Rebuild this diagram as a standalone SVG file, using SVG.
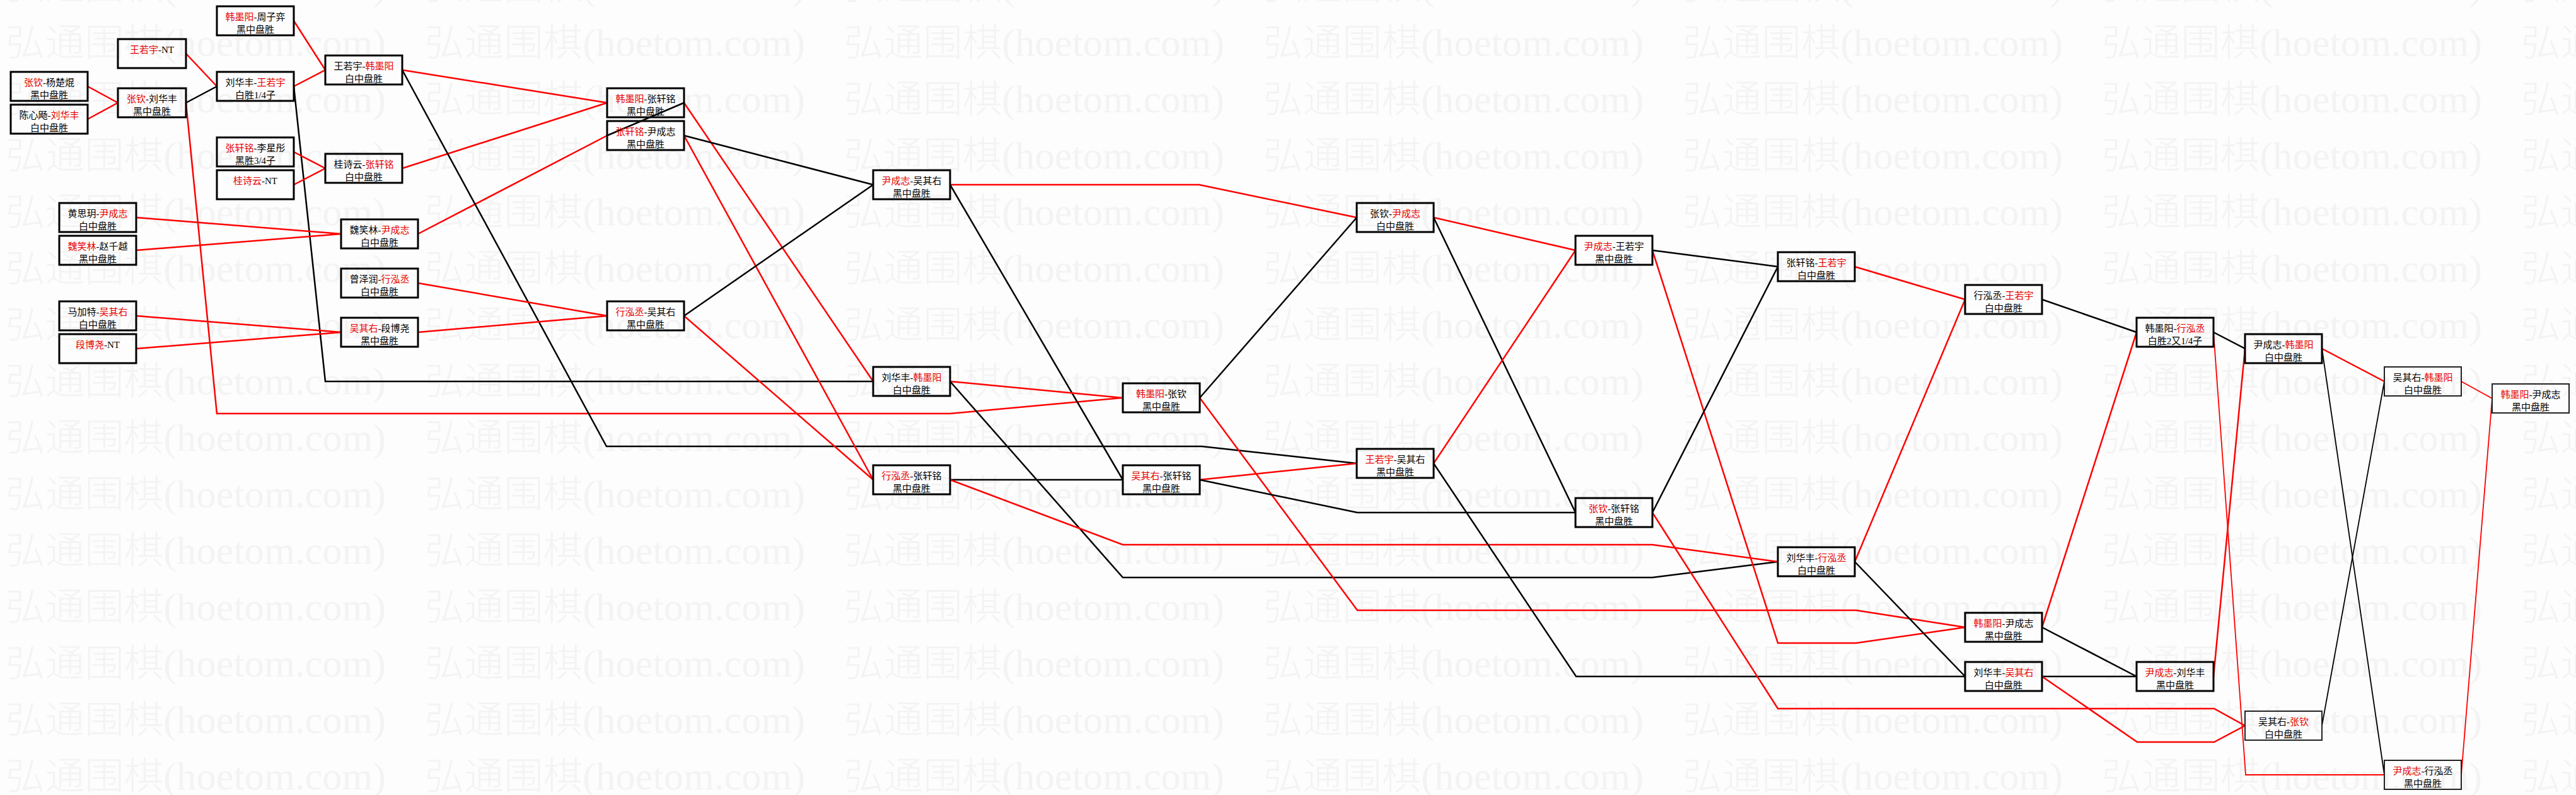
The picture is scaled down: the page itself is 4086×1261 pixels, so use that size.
<svg xmlns="http://www.w3.org/2000/svg" width="4086" height="1261" viewBox="0 0 4086 1261">
<style>
.bg{fill:#fdfdfd}
.wm{font-family:"Liberation Serif","Noto Sans CJK SC",serif;font-size:60px;font-weight:300;fill:#f3f3f3}
.nb{fill:none;stroke:#000;stroke-width:3}
.nb.t{stroke-width:2;stroke:#222}
.tx{font-family:"Liberation Serif","Noto Sans CJK SC",serif;font-size:15px;fill:#000;text-anchor:middle}
.r{fill:#e60000}
.w{fill:none;stroke:#f00;stroke-width:2.5}
.l{fill:none;stroke:#000;stroke-width:2.5}
.s{stroke-width:1.8}
</style>
<defs>
<pattern id="wmp" x="9" y="22" width="665" height="89.5" patternUnits="userSpaceOnUse">
<text class="wm" x="0" y="67" textLength="603" lengthAdjust="spacingAndGlyphs">弘通围棋(hoetom.com)</text>
</pattern>
</defs>
<rect class="bg" x="0" y="0" width="4086" height="1261"/>
<rect x="0" y="0" width="4086" height="1261" fill="url(#wmp)"/>
<g id="connectors">
<polyline class="w" points="139,137 187,163"/>
<polyline class="w" points="139,189 187,163"/>
<polyline class="l" points="295,163 344,137"/>
<polyline class="w" points="295,85 344,137"/>
<polyline class="w" points="295,163 344,656 1507,656 1781,631"/>
<polyline class="w" points="466,33 516,111"/>
<polyline class="w" points="466,137 516,111"/>
<polyline class="l" points="466,137 516,605 1385,605"/>
<polyline class="w" points="466,241 516,267"/>
<polyline class="w" points="466,293 516,267"/>
<polyline class="w" points="216,345 541,371"/>
<polyline class="w" points="216,397 541,371"/>
<polyline class="w" points="216,501 541,527"/>
<polyline class="w" points="216,553 541,527"/>
<polyline class="w" points="638,111 963,163"/>
<polyline class="w" points="638,267 963,163"/>
<polyline class="w" points="663,371 963,215"/>
<polyline class="l" points="638,111 962,708 1906,708 2152,735"/>
<polyline class="w" points="663,449 963,501"/>
<polyline class="w" points="663,527 963,501"/>
<polyline class="l" points="1085,163 963,215"/>
<polyline class="w" points="1085,163 1385,605"/>
<polyline class="l" points="1085,215 1385,293"/>
<polyline class="w" points="1085,215 1385,761"/>
<polyline class="l" points="1085,501 1385,293"/>
<polyline class="w" points="1085,501 1385,761"/>
<polyline class="w" points="1507,293 1902,293 2152,345"/>
<polyline class="l" points="1507,293 1781,761"/>
<polyline class="w" points="1507,605 1781,631"/>
<polyline class="l" points="1507,605 1781,916 2621,916 2820,891"/>
<polyline class="l" points="1507,761 1781,761"/>
<polyline class="w" points="1507,761 1781,864 2621,864 2820,891"/>
<polyline class="l" points="1903,631 2152,345"/>
<polyline class="w" points="1903,631 2153,968 2944,968 3117,995"/>
<polyline class="w" points="1903,761 2152,735"/>
<polyline class="l" points="1903,761 2153,813 2499,813"/>
<polyline class="w" points="2274,345 2499,397"/>
<polyline class="l" points="2274,345 2499,813"/>
<polyline class="w" points="2274,735 2499,397"/>
<polyline class="l" points="2274,735 2500,1073 3117,1073"/>
<polyline class="l" points="2621,397 2820,423"/>
<polyline class="w" points="2621,397 2820,1020 2944,1020 3117,995"/>
<polyline class="l" points="2621,813 2820,423"/>
<polyline class="w" points="2621,813 2820,1124 3512,1124 3561,1151"/>
<polyline class="w" points="2942,423 3117,475"/>
<polyline class="w" points="2942,891 3117,475"/>
<polyline class="l" points="2942,891 3117,1073"/>
<polyline class="l" points="3239,475 3389,527"/>
<polyline class="w" points="3239,995 3389,527"/>
<polyline class="l" points="3239,995 3389,1073"/>
<polyline class="l" points="3239,1073 3389,1073"/>
<polyline class="w" points="3239,1073 3390,1177 3512,1177 3561,1151"/>
<polyline class="l" points="3511,527 3561,553"/>
<polyline class="w s" points="3511,527 3562,1229 3782,1229"/>
<polyline class="w" points="3511,1073 3561,553"/>
<polyline class="w" points="3683,553 3782,605"/>
<polyline class="l s" points="3683,553 3782,1229"/>
<polyline class="l s" points="3683,1151 3782,605"/>
<polyline class="w s" points="3904,605 3953,632"/>
<polyline class="w s" points="3904,1229 3953,632"/>
</g>
<g id="n01" transform="translate(344,10)"><rect class="nb" width="122" height="46"/><text class="tx" x="61" y="22"><tspan class="r">韩墨阳</tspan>-周子弈</text><text class="tx" x="61" y="42">黑中盘胜</text></g>
<g id="n02" transform="translate(187,62)"><rect class="nb" width="108" height="46"/><text class="tx" x="54" y="22"><tspan class="r">王若宇</tspan>-NT</text></g>
<g id="n03" transform="translate(17,114)"><rect class="nb" width="122" height="46"/><text class="tx" x="61" y="22"><tspan class="r">张钦</tspan>-杨楚焜</text><text class="tx" x="61" y="42">黑中盘胜</text></g>
<g id="n04" transform="translate(17,166)"><rect class="nb" width="122" height="46"/><text class="tx" x="61" y="22">陈心飏-<tspan class="r">刘华丰</tspan></text><text class="tx" x="61" y="42">白中盘胜</text></g>
<g id="n05" transform="translate(187,140)"><rect class="nb" width="108" height="46"/><text class="tx" x="54" y="22"><tspan class="r">张钦</tspan>-刘华丰</text><text class="tx" x="54" y="42">黑中盘胜</text></g>
<g id="n06" transform="translate(344,114)"><rect class="nb" width="122" height="46"/><text class="tx" x="61" y="22">刘华丰-<tspan class="r">王若宇</tspan></text><text class="tx" x="61" y="42">白胜1/4子</text></g>
<g id="n07" transform="translate(516,88)"><rect class="nb" width="122" height="46"/><text class="tx" x="61" y="22">王若宇-<tspan class="r">韩墨阳</tspan></text><text class="tx" x="61" y="42">白中盘胜</text></g>
<g id="n08" transform="translate(344,218)"><rect class="nb" width="122" height="46"/><text class="tx" x="61" y="22"><tspan class="r">张轩铭</tspan>-李星彤</text><text class="tx" x="61" y="42">黑胜3/4子</text></g>
<g id="n09" transform="translate(344,270)"><rect class="nb" width="122" height="46"/><text class="tx" x="61" y="22"><tspan class="r">桂诗云</tspan>-NT</text></g>
<g id="n10" transform="translate(516,244)"><rect class="nb" width="122" height="46"/><text class="tx" x="61" y="22">桂诗云-<tspan class="r">张轩铭</tspan></text><text class="tx" x="61" y="42">白中盘胜</text></g>
<g id="n11" transform="translate(94,322)"><rect class="nb" width="122" height="46"/><text class="tx" x="61" y="22">黄思玥-<tspan class="r">尹成志</tspan></text><text class="tx" x="61" y="42">白中盘胜</text></g>
<g id="n12" transform="translate(94,374)"><rect class="nb" width="122" height="46"/><text class="tx" x="61" y="22"><tspan class="r">魏笑林</tspan>-赵千越</text><text class="tx" x="61" y="42">黑中盘胜</text></g>
<g id="n13" transform="translate(541,348)"><rect class="nb" width="122" height="46"/><text class="tx" x="61" y="22">魏笑林-<tspan class="r">尹成志</tspan></text><text class="tx" x="61" y="42">白中盘胜</text></g>
<g id="n14" transform="translate(541,426)"><rect class="nb" width="122" height="46"/><text class="tx" x="61" y="22">曾泽润-<tspan class="r">行泓丞</tspan></text><text class="tx" x="61" y="42">白中盘胜</text></g>
<g id="n15" transform="translate(94,478)"><rect class="nb" width="122" height="46"/><text class="tx" x="61" y="22">马加特-<tspan class="r">吴其右</tspan></text><text class="tx" x="61" y="42">白中盘胜</text></g>
<g id="n16" transform="translate(94,530)"><rect class="nb" width="122" height="46"/><text class="tx" x="61" y="22"><tspan class="r">段博尧</tspan>-NT</text></g>
<g id="n17" transform="translate(541,504)"><rect class="nb" width="122" height="46"/><text class="tx" x="61" y="22"><tspan class="r">吴其右</tspan>-段博尧</text><text class="tx" x="61" y="42">黑中盘胜</text></g>
<g id="n18" transform="translate(963,140)"><rect class="nb" width="122" height="46"/><text class="tx" x="61" y="22"><tspan class="r">韩墨阳</tspan>-张轩铭</text><text class="tx" x="61" y="42">黑中盘胜</text></g>
<g id="n19" transform="translate(963,192)"><rect class="nb" width="122" height="46"/><text class="tx" x="61" y="22"><tspan class="r">张轩铭</tspan>-尹成志</text><text class="tx" x="61" y="42">黑中盘胜</text></g>
<g id="n20" transform="translate(963,478)"><rect class="nb" width="122" height="46"/><text class="tx" x="61" y="22"><tspan class="r">行泓丞</tspan>-吴其右</text><text class="tx" x="61" y="42">黑中盘胜</text></g>
<g id="n21" transform="translate(1385,270)"><rect class="nb" width="122" height="46"/><text class="tx" x="61" y="22"><tspan class="r">尹成志</tspan>-吴其右</text><text class="tx" x="61" y="42">黑中盘胜</text></g>
<g id="n22" transform="translate(1385,582)"><rect class="nb" width="122" height="46"/><text class="tx" x="61" y="22">刘华丰-<tspan class="r">韩墨阳</tspan></text><text class="tx" x="61" y="42">白中盘胜</text></g>
<g id="n23" transform="translate(1385,738)"><rect class="nb" width="122" height="46"/><text class="tx" x="61" y="22"><tspan class="r">行泓丞</tspan>-张轩铭</text><text class="tx" x="61" y="42">黑中盘胜</text></g>
<g id="n24" transform="translate(1781,608)"><rect class="nb" width="122" height="46"/><text class="tx" x="61" y="22"><tspan class="r">韩墨阳</tspan>-张钦</text><text class="tx" x="61" y="42">黑中盘胜</text></g>
<g id="n25" transform="translate(1781,738)"><rect class="nb" width="122" height="46"/><text class="tx" x="61" y="22"><tspan class="r">吴其右</tspan>-张轩铭</text><text class="tx" x="61" y="42">黑中盘胜</text></g>
<g id="n26" transform="translate(2152,322)"><rect class="nb" width="122" height="46"/><text class="tx" x="61" y="22">张钦-<tspan class="r">尹成志</tspan></text><text class="tx" x="61" y="42">白中盘胜</text></g>
<g id="n27" transform="translate(2152,712)"><rect class="nb" width="122" height="46"/><text class="tx" x="61" y="22"><tspan class="r">王若宇</tspan>-吴其右</text><text class="tx" x="61" y="42">黑中盘胜</text></g>
<g id="n28" transform="translate(2499,374)"><rect class="nb" width="122" height="46"/><text class="tx" x="61" y="22"><tspan class="r">尹成志</tspan>-王若宇</text><text class="tx" x="61" y="42">黑中盘胜</text></g>
<g id="n29" transform="translate(2499,790)"><rect class="nb" width="122" height="46"/><text class="tx" x="61" y="22"><tspan class="r">张钦</tspan>-张轩铭</text><text class="tx" x="61" y="42">黑中盘胜</text></g>
<g id="n30" transform="translate(2820,400)"><rect class="nb" width="122" height="46"/><text class="tx" x="61" y="22">张轩铭-<tspan class="r">王若宇</tspan></text><text class="tx" x="61" y="42">白中盘胜</text></g>
<g id="n31" transform="translate(2820,868)"><rect class="nb" width="122" height="46"/><text class="tx" x="61" y="22">刘华丰-<tspan class="r">行泓丞</tspan></text><text class="tx" x="61" y="42">白中盘胜</text></g>
<g id="n32" transform="translate(3117,452)"><rect class="nb" width="122" height="46"/><text class="tx" x="61" y="22">行泓丞-<tspan class="r">王若宇</tspan></text><text class="tx" x="61" y="42">白中盘胜</text></g>
<g id="n33" transform="translate(3117,972)"><rect class="nb" width="122" height="46"/><text class="tx" x="61" y="22"><tspan class="r">韩墨阳</tspan>-尹成志</text><text class="tx" x="61" y="42">黑中盘胜</text></g>
<g id="n34" transform="translate(3117,1050)"><rect class="nb" width="122" height="46"/><text class="tx" x="61" y="22">刘华丰-<tspan class="r">吴其右</tspan></text><text class="tx" x="61" y="42">白中盘胜</text></g>
<g id="n35" transform="translate(3389,504)"><rect class="nb" width="122" height="46"/><text class="tx" x="61" y="22">韩墨阳-<tspan class="r">行泓丞</tspan></text><text class="tx" x="61" y="42">白胜2又1/4子</text></g>
<g id="n36" transform="translate(3389,1050)"><rect class="nb" width="122" height="46"/><text class="tx" x="61" y="22"><tspan class="r">尹成志</tspan>-刘华丰</text><text class="tx" x="61" y="42">黑中盘胜</text></g>
<g id="n37" transform="translate(3561,530)"><rect class="nb" width="122" height="46"/><text class="tx" x="61" y="22">尹成志-<tspan class="r">韩墨阳</tspan></text><text class="tx" x="61" y="42">白中盘胜</text></g>
<g id="n38" transform="translate(3561,1128)"><rect class="nb t" width="122" height="46"/><text class="tx" x="61" y="22">吴其右-<tspan class="r">张钦</tspan></text><text class="tx" x="61" y="42">白中盘胜</text></g>
<g id="n39" transform="translate(3782,582)"><rect class="nb t" width="122" height="46"/><text class="tx" x="61" y="22">吴其右-<tspan class="r">韩墨阳</tspan></text><text class="tx" x="61" y="42">白中盘胜</text></g>
<g id="n40" transform="translate(3782,1206)"><rect class="nb t" width="122" height="46"/><text class="tx" x="61" y="22"><tspan class="r">尹成志</tspan>-行泓丞</text><text class="tx" x="61" y="42">黑中盘胜</text></g>
<g id="n41" transform="translate(3953,609)"><rect class="nb t" width="122" height="46"/><text class="tx" x="61" y="22"><tspan class="r">韩墨阳</tspan>-尹成志</text><text class="tx" x="61" y="42">黑中盘胜</text></g>
</svg>
